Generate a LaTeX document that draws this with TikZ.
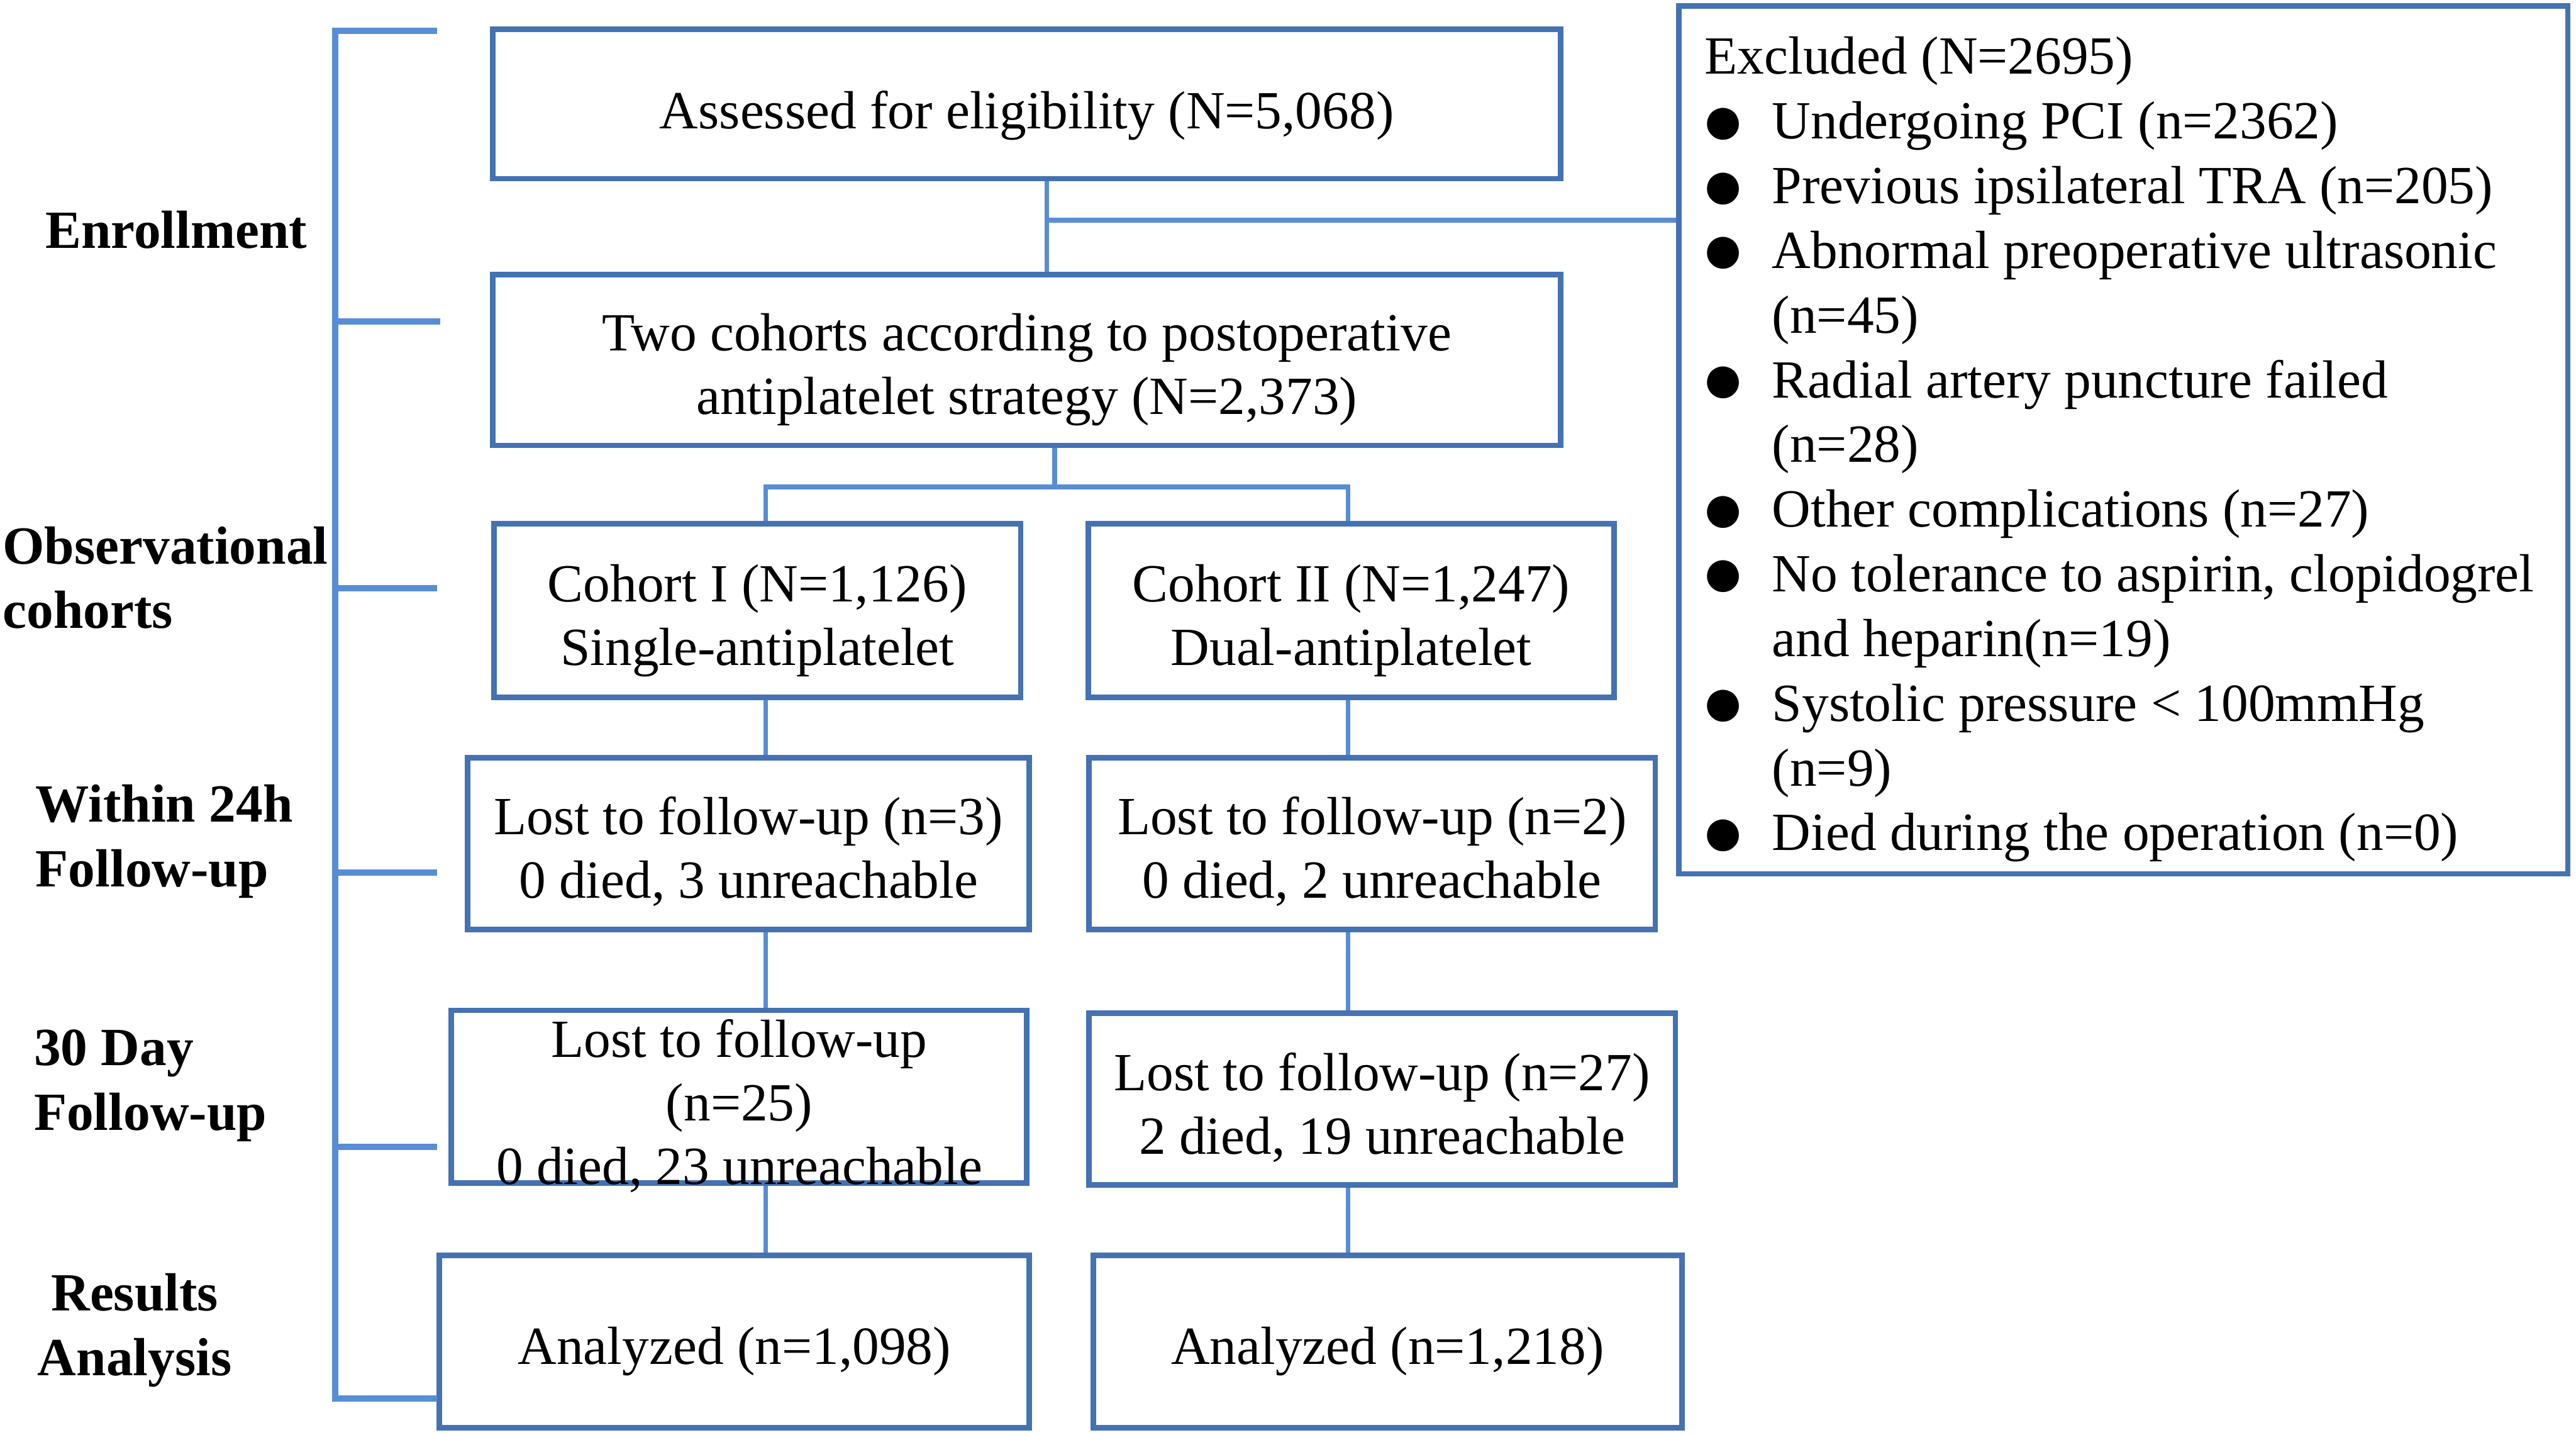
\documentclass[tikz,border=0pt]{standalone}
\usepackage{fontspec}
\setmainfont{Liberation Serif}
\definecolor{boxc}{RGB}{68,114,178}
\definecolor{linec}{RGB}{88,141,212}
\newcommand{\fs}{\fontsize{9.3}{11}\selectfont}
\newcommand{\fx}{\fontsize{9.3}{11.2}\selectfont}
\newcommand{\bul}{\makebox[4.1mm][l]{\hspace*{-0.25mm}\raisebox{-0.36mm}{\scalebox{1.38}{●}}}}
\newcommand{\ind}{\hspace*{4.1mm}}
\begin{document}
\begin{tikzpicture}[x=0.1mm,y=-0.1mm,
  box/.style={draw=boxc,line width=0.95pt,inner sep=0pt},
  conn/.style={draw=linec,line width=0.8pt},
  brk/.style={draw=linec,line width=1.1pt,line join=miter},
  lab/.style={font=\fx\bfseries,align=left,inner sep=0pt},
  txt/.style={font=\fs,align=center,inner sep=0pt},
  bt/.style={txt,yshift=-0.6mm}]
\useasboundingbox (0,0) rectangle (1568,873);

% boxes
\node[box,minimum width=65mm,minimum height=9.1mm] (A) at (625,63.2) {};
\node[bt,yshift=-0.1mm] (At) at (A) {Assessed for eligibility (N=5,068)};
\node[box,minimum width=65mm,minimum height=10.4mm] (B) at (625,219) {};
\node[bt] (Bt) at (B) {Two cohorts according to postoperative\\antiplatelet strategy (N=2,373)};
\node[box,minimum width=32.05mm,minimum height=10.57mm] (C1) at (461,371.5) {};
\node[bt] (C1t) at (C1) {Cohort I (N=1,126)\\Single-antiplatelet};
\node[box,minimum width=32mm,minimum height=10.57mm] (C2) at (822.5,371.5) {};
\node[bt] (C2t) at (C2) {Cohort II (N=1,247)\\Dual-antiplatelet};
\node[box,minimum width=34.2mm,minimum height=10.45mm] (L1) at (455.6,513.3) {};
\node[bt,yshift=0.1mm] (L1t) at (L1) {Lost to follow-up (n=3)\\0 died, 3 unreachable};
\node[box,minimum width=34.48mm,minimum height=10.45mm] (L2) at (835.2,513.3) {};
\node[bt,yshift=0.1mm] (L2t) at (L2) {Lost to follow-up (n=2)\\0 died, 2 unreachable};
\node[box,minimum width=35.04mm,minimum height=10.52mm] (D1) at (449.8,667.4) {};
\node[txt] (D1t) at (450,673) {Lost to follow-up\\(n=25)\\0 died, 23 unreachable};
\node[box,minimum width=35.7mm,minimum height=10.45mm] (D2) at (841.3,668.8) {};
\node[bt,yshift=0.1mm] (D2t) at (D2) {Lost to follow-up (n=27)\\2 died, 19 unreachable};
\node[box,minimum width=35.9mm,minimum height=10.5mm] (N1) at (447,816.3) {};
\node[bt] (N1t) at (N1) {Analyzed (n=1,098)};
\node[box,minimum width=35.84mm,minimum height=10.5mm] (N2) at (844.6,816.3) {};
\node[bt] (N2t) at (N2) {Analyzed (n=1,218)};
\node[box,minimum width=54.12mm,minimum height=52.82mm] (EX) at (1292.4,267.6) {};
\node[txt,font=\fx,align=left,anchor=west] (EXt) at (1037,273.5) {Excluded (N=2695)\\
\bul Undergoing PCI (n=2362)\\
\bul Previous ipsilateral TRA (n=205)\\
\bul Abnormal preoperative ultrasonic\\
\ind (n=45)\\
\bul Radial artery puncture failed\\
\ind (n=28)\\
\bul Other complications (n=27)\\
\bul No tolerance to aspirin, clopidogrel\\
\ind and heparin(n=19)\\
\bul Systolic pressure < 100mmHg\\
\ind (n=9)\\
\bul Died during the operation (n=0)};

% connectors
\coordinate (jA) at (637.3,134);
\draw[conn] (A.south -| jA) -- (B.north -| jA);
\draw[conn] (jA) -- (jA -| EX.west);
\coordinate (jB) at (642,296.3);
\coordinate (xL) at (466,0);
\coordinate (xR) at (820.5,0);
\draw[conn] (B.south -| jB) -- (jB);
\draw[conn] (C1.north -| xL) -- (jB -| xL) -- (jB -| xR) -- (C2.north -| xR);
\draw[conn] (C1.south -| xL) -- (L1.north -| xL);
\draw[conn] (C2.south -| xR) -- (L2.north -| xR);
\draw[conn] (L1.south -| xL) -- (D1.north -| xL);
\draw[conn] (L2.south -| xR) -- (D2.north -| xR);
\draw[conn] (D1.south -| xL) -- (N1.north -| xL);
\draw[conn] (D2.south -| xR) -- (N2.north -| xR);

% bracket
\draw[brk] (266,18.6) -- (204,18.6) -- (204,851) -- (266,851);
\draw[brk] (204,195.7) -- (268,195.7);
\draw[brk] (204,358) -- (266,358);
\draw[brk] (204,531) -- (266,531);
\draw[brk] (204,698) -- (266,698);

% stage labels
\node[lab,anchor=west] (l1) at (27,140) {Enrollment};
\node[lab,anchor=west] (l2) at (1,351.5) {Observational\\cohorts};
\node[lab,anchor=west] (l3) at (21,512) {Within 24h\\Follow-up};
\node[lab,anchor=west] (l4) at (20,660.5) {30 Day\\Follow-up};
\node[lab,align=center] (l5) at (82,809.5) {Results\\Analysis};
\end{tikzpicture}
\end{document}
